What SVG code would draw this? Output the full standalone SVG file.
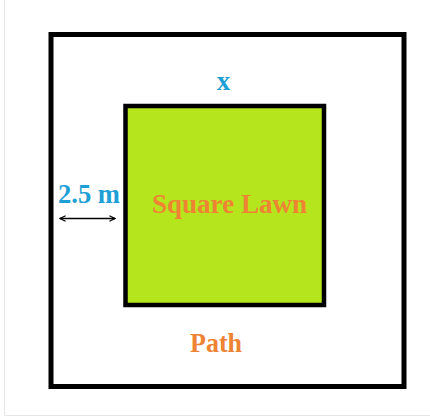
<svg xmlns="http://www.w3.org/2000/svg" width="430" height="417" viewBox="0 0 430 417">
  <defs>
    <marker id="arr" viewBox="0 0 10 10" refX="9" refY="5" markerWidth="7" markerHeight="7" orient="auto-start-reverse" markerUnits="userSpaceOnUse">
      <path d="M1,1 L9,5 L1,9" fill="none" stroke="#000" stroke-width="1.6"/>
    </marker>
  </defs>
  <style>
    .lbl { font-family: "Liberation Serif", "Times New Roman", serif; font-weight: bold; font-size: 27px; }
    .blue { fill: #1e9fd6; }
    .orange { fill: #ee8433; }
  </style>
  <rect width="430" height="417" fill="#ffffff"/>
  <path d="M4.5,0 V415.5 H430" fill="none" stroke="#e6e6e6" stroke-width="1"/>
  <g id="outer-path">
    <rect x="51" y="34.5" width="353" height="352" fill="none" stroke="#000" stroke-width="5"/>
    <text class="lbl orange" x="216" y="352" text-anchor="middle" textLength="52" lengthAdjust="spacingAndGlyphs">Path</text>
  </g>
  <g id="square-lawn">
    <rect x="125.5" y="106" width="198.5" height="199" fill="#b5e61d" stroke="#000" stroke-width="4.5"/>
    <text class="lbl orange" x="229.5" y="213" text-anchor="middle" textLength="155" lengthAdjust="spacingAndGlyphs">Square Lawn</text>
  </g>
  <g id="label-x">
    <text class="lbl blue" x="223.5" y="90" text-anchor="middle">x</text>
  </g>
  <g id="label-width">
    <text class="lbl blue" x="58" y="203" textLength="62" lengthAdjust="spacingAndGlyphs">2.5 m</text>
  </g>
  <g id="connectors">
    <line x1="60" y1="218.5" x2="115" y2="218.5" stroke="#000" stroke-width="1.6" marker-start="url(#arr)" marker-end="url(#arr)"/>
  </g>
</svg>
